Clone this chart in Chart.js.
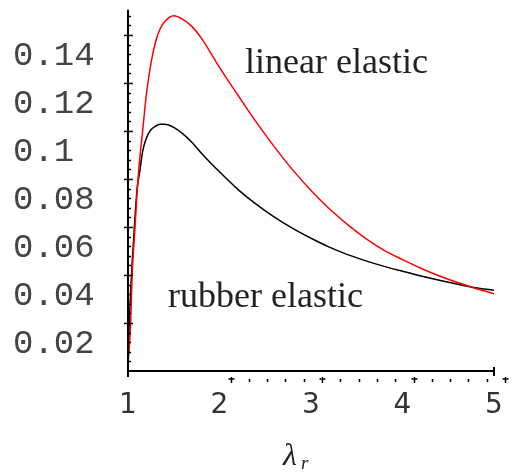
<!DOCTYPE html>
<html>
<head>
<meta charset="utf-8">
<script src="https://cdn.jsdelivr.net/npm/chart.js@4.4.1/dist/chart.umd.min.js"></script>
<style>
  html, body { margin: 0; padding: 0; background: #fff; }
  canvas { display: block; }
</style>
</head>
<body>
<canvas id="chart" width="520" height="474"></canvas>
<script>
/* ─── data ────────────────────────────────────────────────── */

const lambdaValues = [1.0, 1.015, 1.03, 1.045, 1.06, 1.08, 1.1, 1.13, 1.16, 1.2, 1.25, 1.3, 1.35, 1.4,
  1.5, 1.6, 1.7, 1.8, 1.9, 2.0, 2.2, 2.4, 2.6, 2.8, 3.0, 3.2, 3.4, 3.6, 3.8, 4.0, 4.25, 4.5, 4.75, 5.0];

const linearElastic = [0.003, 0.010, 0.021, 0.040, 0.050, 0.062, 0.075, 0.089, 0.100, 0.115, 0.128, 0.137, 0.1425, 0.1455,
  0.148, 0.1465, 0.1435, 0.1388, 0.1328, 0.1265, 0.115, 0.1038, 0.0934, 0.0838, 0.0752, 0.0676, 0.061, 0.0552, 0.0503, 0.0464, 0.042, 0.0382, 0.035, 0.0322];

const rubberElastic = [0.003, 0.021, 0.034, 0.045, 0.054, 0.066, 0.076, 0.0835, 0.0915, 0.097, 0.1005, 0.102, 0.1028, 0.1028,
  0.1015, 0.0988, 0.0952, 0.0908, 0.0868, 0.083, 0.0757, 0.0695, 0.0641, 0.0594, 0.0553, 0.0516, 0.0485, 0.0459, 0.0436, 0.0416, 0.0392, 0.037, 0.035, 0.0336];

const xTickValues = [1, 2, 3, 4, 5];
const xTickLabels = ['1', '2', '3', '4', '5'];
const yTickValues = [0.02, 0.04, 0.06, 0.08, 0.1, 0.12, 0.14];
const yTickLabels = ['0.02', '0.04', '0.06', '0.08', '0.1', '0.12', '0.14'];
const curveLabels = ['linear elastic', 'rubber elastic'];

/* ─── axis decoration + labels ────────────────────────────── */

const axisDecor = {
  id: 'axisDecor',
  afterDraw(chart) {
    const { ctx, scales: { x, y } } = chart;
    const x0 = x.getPixelForValue(1);
    const x1 = x.getPixelForValue(5);
    const y0 = y.getPixelForValue(0);
    ctx.save();
    ctx.strokeStyle = '#000';
    ctx.lineWidth = 2;
    ctx.beginPath();
    ctx.moveTo(x0, y.getPixelForValue(0.1505));
    ctx.lineTo(x0, y0 + 6);
    ctx.moveTo(x0, y0);
    ctx.lineTo(x1, y0);
    ctx.moveTo(x1, y0 - 4);
    ctx.lineTo(x1, y0 + 5);
    ctx.stroke();

    // y ticks: majors cross the axis, minors on the inside
    ctx.lineWidth = 1.5;
    ctx.beginPath();
    for (let k = 1; k <= 37; k++) {
      const v = k * 0.004;
      const py = Math.round(y.getPixelForValue(v)) + 0.5;
      if (k % 5 === 0) {
        ctx.moveTo(x0 - 4, py); ctx.lineTo(x0 + 5, py);
      } else {
        ctx.moveTo(x0, py); ctx.lineTo(x0 + 3, py);
      }
    }
    ctx.stroke();

    // x ticks: a detached, shifted row below the axis
    ctx.beginPath();
    for (let k = 0; k <= 15; k++) {
      const v = 2 + k * 0.2;
      const px = Math.round(x.getPixelForValue(v) + 11) + 0.5;
      if (k % 5 === 0) {
        ctx.moveTo(px, y0 + 6); ctx.lineTo(px, y0 + 12);
        ctx.moveTo(px - 3, y0 + 8); ctx.lineTo(px + 3, y0 + 8);
      } else {
        ctx.moveTo(px, y0 + 8); ctx.lineTo(px, y0 + 11);
      }
    }
    ctx.stroke();

    // curve labels
    ctx.fillStyle = '#222';
    ctx.font = '36px "Liberation Serif", "Times New Roman", serif';
    ctx.textBaseline = 'alphabetic';
    ctx.fillText(curveLabels[0], 245, 73);
    ctx.fillText(curveLabels[1], 168, 307);

    // axis title λr
    ctx.font = 'italic 32px "Liberation Serif", serif';
    ctx.fillText('\u03bb', 283, 465);
    ctx.font = 'italic 19px "Liberation Serif", serif';
    ctx.fillText('r', 301, 469);
    ctx.restore();
  }
};

/* ─── chart ───────────────────────────────────────────────── */

new Chart(document.getElementById('chart'), {
  type: 'line',
  data: {
    datasets: [
      {
        label: curveLabels[0],
        data: lambdaValues.map((l, i) => ({ x: l, y: linearElastic[i] })),
        borderColor: '#ff0000',
        borderWidth: 1.5,
        pointRadius: 0,
        cubicInterpolationMode: 'monotone',
      },
      {
        label: curveLabels[1],
        data: lambdaValues.map((l, i) => ({ x: l, y: rubberElastic[i] })),
        borderColor: '#000000',
        borderWidth: 1.5,
        pointRadius: 0,
        cubicInterpolationMode: 'monotone',
      },
    ],
  },
  options: {
    responsive: false,
    animation: false,
    layout: { padding: { left: 13, top: 11, right: 26, bottom: 0 } },
    plugins: { legend: { display: false }, tooltip: { enabled: false } },
    scales: {
      x: {
        type: 'linear',
        min: 1,
        max: 5,
        grid: { display: false },
        border: { display: false },
        afterBuildTicks: s => { s.ticks = xTickValues.map(v => ({ value: v })); },
        afterFit: s => { s.height = 103; s.paddingLeft = 0; s.paddingRight = 0; },
        ticks: {
          padding: 10,
          color: '#333',
          font: { family: '"DejaVu Sans", sans-serif', size: 28 },
          callback: v => xTickLabels[xTickValues.indexOf(v)],
        },
      },
      y: {
        min: 0,
        max: 0.15,
        grid: { display: false },
        border: { display: false },
        afterBuildTicks: s => { s.ticks = yTickValues.map(v => ({ value: v })); },
        afterFit: s => { s.width = 115; s.paddingTop = 0; s.paddingBottom = 0; },
        ticks: {
          crossAlign: 'far',
          labelOffset: 21,
          color: '#444',
          font: { family: '"Liberation Mono", "Courier New", monospace', size: 34 },
          callback: v => yTickLabels[yTickValues.findIndex(t => Math.abs(t - v) < 1e-9)],
        },
      },
    },
  },
  plugins: [axisDecor],
});
</script>
</body>
</html>
